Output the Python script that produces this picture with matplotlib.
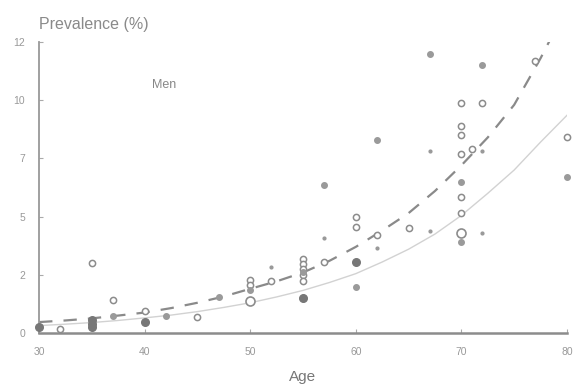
import numpy as np
import matplotlib
matplotlib.use('Agg')
import matplotlib.pyplot as plt

plt.rcParams['font.family'] = ['Liberation Sans', 'DejaVu Sans']

# open circles
open_age = [32, 35, 37, 40, 45, 50, 50, 50, 52, 55, 55, 55, 55, 55, 55, 57,
            60, 60, 62, 65, 70, 70, 70, 70, 70, 70, 71, 72, 77, 80]
open_val = [0.17, 3.0, 1.42, 0.95, 0.69, 1.37, 2.28, 2.05, 2.23, 3.2, 2.95, 2.75,
            2.5, 2.25, 1.5, 3.05, 5.0, 4.55, 4.2, 4.5, 9.9, 8.9, 8.5, 7.7, 5.85,
            5.15, 7.9, 9.9, 11.7, 8.4]
# larger open circles
big_age = [50, 70]
big_val = [1.37, 4.3]

# filled dots
fill_age = [37, 42, 47, 50, 55, 57, 60, 62, 67, 70, 70, 72, 80]
fill_val = [0.73, 0.73, 1.55, 1.85, 2.6, 6.35, 1.97, 8.3, 12.0, 6.5, 3.9, 11.5, 6.7]
# darker filled dots
dark_age = [30, 35, 35, 35, 40, 55, 60]
dark_val = [0.25, 0.55, 0.4, 0.28, 0.47, 1.5, 3.05]

# tiny dots
tiny_age = [52, 57, 62, 67, 67, 72, 72]
tiny_val = [2.85, 4.1, 3.65, 7.8, 4.4, 7.8, 4.3]

# fitted curves
curve_age = [30, 32.5, 35, 37.5, 40, 42.5, 45, 47.5, 50, 52.5, 55, 57.5,
             60, 62.5, 65, 67.5, 70, 72.5, 75, 77.5, 80]
dashed_val = [0.47, 0.54, 0.63, 0.75, 0.88, 1.07, 1.3, 1.57, 1.9, 2.22, 2.6, 3.1,
              3.7, 4.4, 5.15, 6.1, 7.2, 8.4, 9.8, 11.8, 14.0]
solid_val = [0.32, 0.38, 0.45, 0.54, 0.65, 0.77, 0.92, 1.1, 1.3, 1.55, 1.83, 2.17,
             2.55, 3.05, 3.6, 4.25, 5.05, 6.0, 7.0, 8.2, 9.35]

xticks = [30, 40, 50, 60, 70, 80]
yticks = [0, 2.5, 5, 7.5, 10, 12.5]
ytick_labels = ['0', '2', '5', '7', '10', '12']

fig = plt.figure(figsize=(5.75, 3.85), dpi=100)
ax = fig.add_axes([0.068, 0.135, 0.918, 0.756])

ax.plot(curve_age, solid_val, color='#d2d2d2', lw=1.0, zorder=1)
ax.plot(curve_age, dashed_val, color='#8a8a8a', lw=1.6, dashes=(6, 5), zorder=1)

ax.scatter(open_age, open_val, s=20, facecolor='white', edgecolor='#8c8c8c',
           linewidth=1.1, zorder=3, clip_on=False)
ax.scatter(big_age, big_val, s=42, facecolor='white', edgecolor='#8c8c8c',
           linewidth=1.2, zorder=3, clip_on=False)
ax.scatter(fill_age, fill_val, s=16, color='#9a9a9a', zorder=4, clip_on=False)
ax.scatter(dark_age, dark_val, s=30, color='#777777', zorder=4, clip_on=False)
ax.scatter(tiny_age, tiny_val, s=4, color='#999999', zorder=4, clip_on=False)

ax.set_xlim(30, 80)
ax.set_ylim(0, 12.5)
ax.set_xticks(xticks)
ax.set_yticks(yticks)
ax.set_yticklabels(ytick_labels)

for side in ['top', 'right']:
    ax.spines[side].set_visible(False)
ax.spines['left'].set_color('#999999')
ax.spines['bottom'].set_color('#8c8c8c')
ax.spines['left'].set_linewidth(1.3)
ax.spines['bottom'].set_linewidth(1.8)
ax.tick_params(direction='in', length=3, color='#aaaaaa', labelcolor='#999999',
               labelsize=7.5, pad=10)

ax.text(40.7, 10.65, 'Men', fontsize=9, color='#888888', va='center', ha='left')
fig.text(39 / 575, 1 - 25 / 385, 'Prevalence (%)', fontsize=11.5, color='#8a8a8a',
         ha='left', va='center')
fig.text(303 / 575, 1 - 377 / 385, 'Age', fontsize=11, color='#777777',
         ha='center', va='center')

fig.savefig('out.png', dpi=100)
